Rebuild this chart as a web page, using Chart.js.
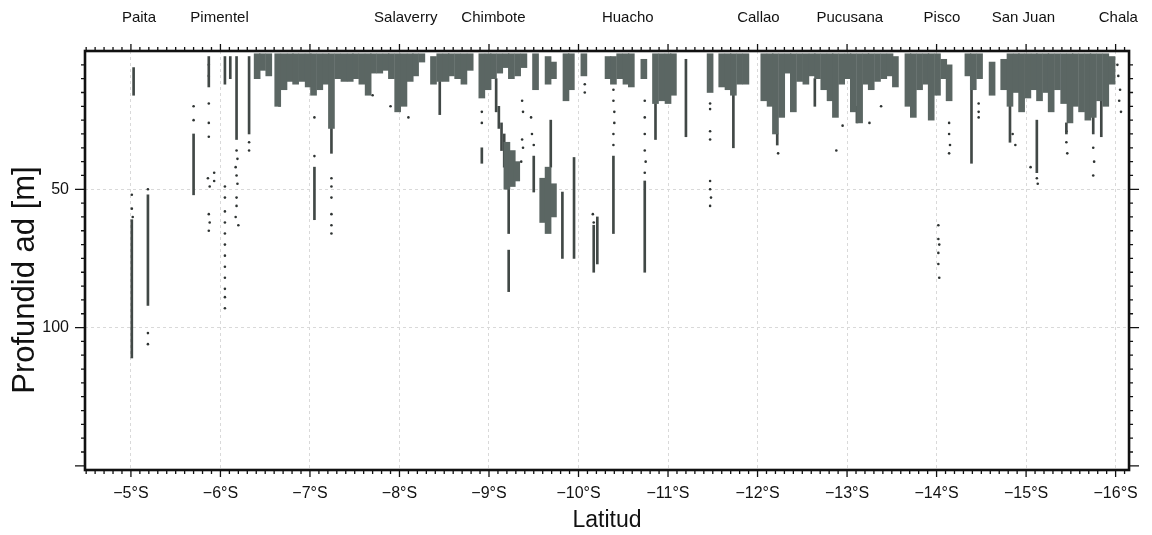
<!DOCTYPE html>
<html>
<head>
<meta charset="utf-8">
<script src="https://cdn.jsdelivr.net/npm/chart.js@4/dist/chart.umd.min.js"></script>
<style>
  html, body { margin: 0; padding: 0; background: #fff; }
</style>
</head>
<body>
<canvas id="perfil" width="1152" height="535"></canvas>
<script>
// Puertos (etiquetas arriba del gráfico)
const portNames = ['Paita', 'Pimentel', 'Salaverry', 'Chimbote', 'Huacho', 'Callao', 'Pucusana', 'Pisco', 'San Juan', 'Chala'];
const portLats = [-5.09, -5.99, -8.07, -9.05, -10.55, -12.01, -13.03, -14.06, -14.97, -16.03];

// Rango de ejes y marcas con etiqueta
const latMin = -16.15, latMax = -4.487;
const depthMin = 0, depthMax = 151.5;
const depthLabels = [50, 100];

// Banda superficial densa: [latitud, prof. superior, prof. inferior]
const bandNorth = [
  [-6.41, 1, 10], [-6.47, 1, 7], [-6.54, 1, 9],
  [-6.64, 1, 20], [-6.71, 1, 14], [-6.78, 1, 11], [-6.84, 1, 12], [-6.91, 1, 11],
  [-6.98, 1, 13], [-7.04, 1, 16], [-7.11, 1, 14], [-7.18, 1, 12], [-7.24, 1, 28],
  [-7.31, 1, 10], [-7.38, 1, 11], [-7.45, 1, 11], [-7.51, 1, 10], [-7.58, 1, 12],
  [-7.65, 1, 16], [-7.71, 1, 8], [-7.78, 1, 8], [-7.85, 1, 7], [-7.91, 1, 10],
  [-7.98, 1, 22], [-8.05, 1, 20], [-8.12, 1, 11], [-8.18, 1, 9], [-8.25, 1, 4],
  [-8.38, 2, 12], [-8.45, 1, 11], [-8.52, 1, 11], [-8.58, 1, 9], [-8.65, 1, 10],
  [-8.72, 1, 12], [-8.79, 1, 7], [-8.92, 1, 17], [-8.99, 1, 14], [-9.05, 1, 10],
  [-9.12, 1, 8], [-9.19, 1, 6], [-9.25, 1, 10], [-9.32, 1, 9], [-9.39, 1, 6],
  [-9.52, 1, 14], [-9.66, 2, 12], [-9.72, 4, 10], [-9.86, 1, 18], [-9.92, 1, 14],
  [-10.06, 1, 9]
];
const bandSouth = [
  [-10.33, 2, 10], [-10.39, 2, 12], [-10.46, 1, 10], [-10.53, 1, 12], [-10.59, 1, 13],
  [-10.73, 3, 10], [-10.86, 1, 19], [-10.93, 1, 18], [-11.00, 1, 19], [-11.06, 1, 16],
  [-11.47, 1, 15], [-11.60, 1, 13], [-11.67, 1, 14], [-11.73, 1, 16], [-11.80, 1, 12],
  [-11.87, 1, 12], [-12.07, 1, 18], [-12.14, 1, 20], [-12.20, 1, 30], [-12.27, 1, 24],
  [-12.34, 1, 8], [-12.40, 1, 22], [-12.47, 1, 11], [-12.54, 1, 12], [-12.61, 1, 9],
  [-12.67, 1, 10], [-12.74, 1, 14], [-12.81, 1, 18], [-12.87, 1, 24], [-12.94, 1, 12],
  [-13.01, 1, 10], [-13.07, 1, 22], [-13.14, 1, 26], [-13.21, 1, 12], [-13.27, 1, 14],
  [-13.34, 1, 11], [-13.41, 1, 10], [-13.48, 1, 9], [-13.54, 2, 13], [-13.68, 1, 20],
  [-13.74, 1, 24], [-13.81, 1, 14], [-13.88, 1, 12], [-13.94, 1, 25], [-14.01, 1, 16],
  [-14.08, 3, 10], [-14.14, 5, 18], [-14.35, 1, 9], [-14.41, 1, 14], [-14.48, 1, 10],
  [-14.62, 4, 16], [-14.75, 3, 14], [-14.82, 1, 20], [-14.89, 1, 15], [-14.95, 1, 22],
  [-15.02, 1, 17], [-15.09, 1, 14], [-15.15, 1, 18], [-15.22, 1, 15], [-15.28, 1, 22],
  [-15.35, 1, 14], [-15.42, 1, 19], [-15.49, 1, 26], [-15.55, 1, 20], [-15.62, 1, 22],
  [-15.69, 1, 25], [-15.75, 1, 24], [-15.82, 1, 18], [-15.89, 1, 20], [-15.96, 2, 12]
];

// Parches profundos (Chimbote)
const deepPatches = [
  [-9.20, 33, 50], [-9.26, 36, 49], [-9.31, 40, 47],
  [-9.60, 46, 62], [-9.66, 42, 66], [-9.72, 48, 60]
];

// Trazas verticales finas
const streaks = [
  [-5.03, 6, 16], [-5.01, 61, 111], [-5.19, 52, 92], [-5.70, 30, 52], [-5.87, 2, 13],
  [-6.05, 2, 12], [-6.11, 2, 10], [-6.18, 2, 32], [-6.32, 2, 30], [-6.66, 14, 20],
  [-7.05, 42, 61], [-7.24, 28, 37], [-8.45, 11, 23], [-8.92, 35, 40.6], [-9.08, 10, 22],
  [-9.11, 20, 28], [-9.14, 26, 36], [-9.17, 30, 42], [-9.22, 50, 66], [-9.22, 72, 87],
  [-9.50, 38, 51], [-9.69, 25, 42], [-9.82, 51, 75], [-9.95, 38.5, 75], [-10.17, 63, 80],
  [-10.21, 60, 77], [-10.39, 38, 66], [-10.74, 47, 80], [-10.86, 19, 32], [-11.20, 3, 31],
  [-11.73, 16, 35], [-12.22, 30, 34], [-12.64, 10, 20], [-13.11, 20, 26], [-14.39, 11, 40.6],
  [-14.82, 20, 33], [-15.12, 25, 44], [-15.45, 26, 30], [-15.84, 18, 31], [-15.75, 24, 30]
];

// Detecciones aisladas: [latitud, profundidad]
const dots = [
  [-5.01, 52], [-5.01, 57], [-5.02, 60], [-5.19, 50], [-5.19, 102], [-5.19, 106],
  [-5.70, 20], [-5.70, 25], [-5.87, 5], [-5.87, 9], [-5.87, 19], [-5.87, 26], [-5.87, 31],
  [-5.86, 46], [-5.88, 49], [-5.93, 44], [-5.93, 47], [-5.87, 59], [-5.88, 62], [-5.87, 65],
  [-6.05, 49], [-6.05, 53], [-6.05, 58], [-6.05, 62], [-6.05, 66], [-6.05, 70], [-6.05, 74],
  [-6.05, 78], [-6.05, 82], [-6.05, 86], [-6.05, 89], [-6.05, 93],
  [-6.18, 36], [-6.19, 39], [-6.17, 42], [-6.18, 45], [-6.19, 48], [-6.18, 53], [-6.18, 56],
  [-6.17, 60], [-6.20, 63], [-6.32, 33], [-6.32, 36],
  [-7.05, 24], [-7.05, 38], [-7.24, 46], [-7.24, 49], [-7.24, 53], [-7.24, 59], [-7.24, 63], [-7.24, 66],
  [-7.70, 16], [-7.90, 20], [-8.10, 24], [-8.92, 22], [-8.92, 26],
  [-9.37, 18], [-9.38, 22], [-9.37, 32], [-9.38, 35], [-9.36, 40],
  [-9.47, 24], [-9.48, 30], [-9.50, 34], [-10.07, 12], [-10.07, 15], [-10.16, 59], [-10.17, 62],
  [-10.39, 14], [-10.39, 18], [-10.40, 22], [-10.40, 26], [-10.39, 30], [-10.39, 34],
  [-10.74, 18], [-10.74, 24], [-10.74, 30], [-10.74, 36], [-10.75, 40], [-10.74, 44],
  [-11.47, 19], [-11.47, 21], [-11.47, 29], [-11.47, 32], [-11.47, 47], [-11.47, 50],
  [-11.48, 53], [-11.47, 56],
  [-12.23, 37], [-12.88, 36], [-12.95, 27], [-13.25, 26], [-13.38, 20],
  [-14.02, 63], [-14.02, 68], [-14.03, 70], [-14.02, 73], [-14.02, 77], [-14.03, 82],
  [-14.14, 26], [-14.14, 30], [-14.15, 34], [-14.14, 37], [-14.47, 19], [-14.47, 22], [-14.47, 24],
  [-14.85, 30], [-14.88, 34], [-15.05, 42], [-15.12, 46], [-15.13, 48],
  [-15.75, 35], [-15.76, 40], [-15.75, 45], [-15.45, 29], [-15.45, 33], [-15.46, 37],
  [-16.02, 5], [-16.03, 9], [-16.05, 14], [-16.04, 18], [-16.06, 22]
];

const blobColor = '#5b6663';
const traceColor = '#414846';
const fontFamily = '"Liberation Sans", Arial, Helvetica, sans-serif';
const yTitle = 'Profundid ad [m]';

const toBars = segs => segs.map(s => ({ x: s[0], y: [s[1], s[2]] }));

// Nombres de puertos arriba del cuadro y título del eje vertical
const portLabels = {
  id: 'portLabels',
  afterDraw(chart) {
    const { ctx, scales: { x } } = chart;
    ctx.save();
    ctx.font = '15px ' + fontFamily;
    ctx.fillStyle = '#111';
    ctx.textAlign = 'center';
    ctx.textBaseline = 'middle';
    portNames.forEach((name, i) => {
      ctx.fillText(name, x.getPixelForValue(portLats[i]), 18);
    });
    // el título vertical va algo más abajo que el centro del cuadro
    ctx.translate(25, 280);
    ctx.rotate(-Math.PI / 2);
    ctx.font = '31px ' + fontFamily;
    ctx.fillText(yTitle, 0, 0);
    ctx.restore();
  }
};

// Marco grueso y marcas menores en los cuatro lados
const frameTicks = {
  id: 'frameTicks',
  afterDraw(chart) {
    const { ctx, chartArea: a, scales: { x, y } } = chart;
    ctx.save();
    ctx.strokeStyle = '#111';
    ctx.lineWidth = 1.3;
    ctx.beginPath();
    for (let i = -161; i <= -45; i++) {
      const px = x.getPixelForValue(i / 10);
      const len = i % 10 === 0 ? 7 : 4;
      ctx.moveTo(px, a.bottom); ctx.lineTo(px, a.bottom + len);
      ctx.moveTo(px, a.top); ctx.lineTo(px, a.top - len);
    }
    for (let d = 5; d <= 150; d += 5) {
      const py = y.getPixelForValue(d);
      const len = d % 50 === 0 ? 10 : 4;
      ctx.moveTo(a.left, py); ctx.lineTo(a.left - len, py);
      ctx.moveTo(a.right, py); ctx.lineTo(a.right + len, py);
    }
    ctx.stroke();
    ctx.lineWidth = 2.6;
    ctx.strokeRect(a.left, a.top, a.right - a.left, a.bottom - a.top);
    ctx.restore();
  }
};

new Chart(document.getElementById('perfil'), {
  type: 'bar',
  data: {
    datasets: [
      { type: 'bar', data: toBars(bandNorth.concat(bandSouth)), backgroundColor: blobColor, barThickness: 6, grouped: false, borderWidth: 0 },
      { type: 'bar', data: toBars(deepPatches), backgroundColor: blobColor, barThickness: 6, grouped: false, borderWidth: 0 },
      { type: 'bar', data: toBars(streaks), backgroundColor: traceColor, barThickness: 2, grouped: false, borderWidth: 0 },
      { type: 'scatter', data: dots.map(d => ({ x: d[0], y: d[1] })), pointRadius: 1.3, pointBackgroundColor: '#2e3332', pointBorderWidth: 0 }
    ]
  },
  options: {
    responsive: false,
    animation: false,
    events: [],
    layout: { padding: { left: 0, right: 22, top: 51, bottom: 0 } },
    plugins: { legend: { display: false }, tooltip: { enabled: false } },
    scales: {
      x: {
        type: 'linear',
        reverse: true,
        min: latMin,
        max: latMax,
        offset: false,
        afterFit: s => { s.height = 65; },
        grid: { offset: false, color: '#d9d9d9', lineWidth: 1, drawTicks: false },
        border: { display: false, dash: [3, 3] },
        ticks: {
          stepSize: 1,
          includeBounds: false,
          padding: 14,
          color: '#111',
          font: { family: fontFamily, size: 16 },
          maxRotation: 0,
          callback: v => '\u2212' + Math.abs(v) + '°S'
        },
        title: { display: true, text: 'Latitud', color: '#111', font: { family: fontFamily, size: 23 }, padding: { top: 0, bottom: 1 } }
      },
      y: {
        type: 'linear',
        reverse: true,
        min: depthMin,
        max: depthMax,
        afterFit: s => { s.width = 85; },
        afterBuildTicks: s => { s.ticks = depthLabels.map(v => ({ value: v })); },
        grid: { color: '#d9d9d9', lineWidth: 1, drawTicks: false },
        border: { display: false, dash: [3, 3] },
        ticks: {
          padding: 16,
          autoSkip: false,
          color: '#111',
          font: { family: fontFamily, size: 16 },
          callback: v => String(v)
        }
      }
    }
  },
  plugins: [portLabels, frameTicks]
});
</script>
</body>
</html>
